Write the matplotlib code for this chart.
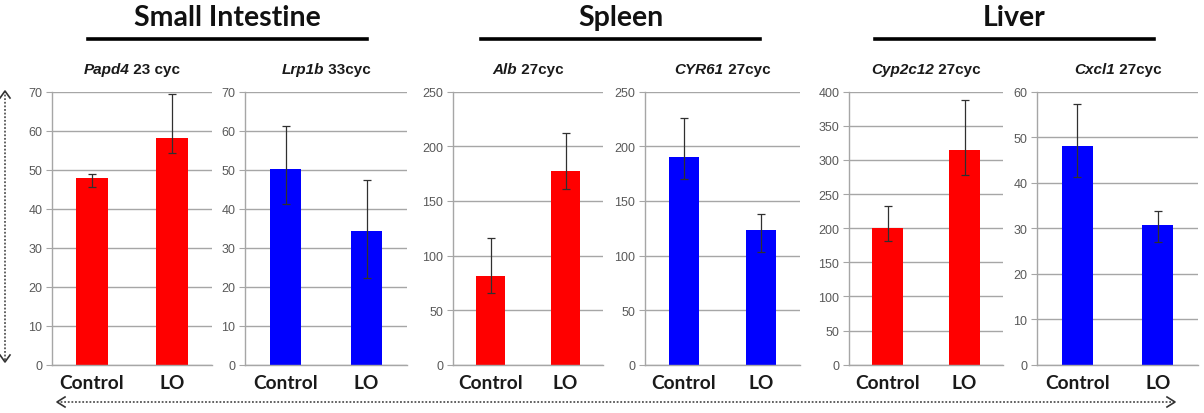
import matplotlib
matplotlib.use("Agg")
import matplotlib.pyplot as plt
from matplotlib.lines import Line2D
import numpy as np

# ---------------- data ----------------
categories = ["Control", "LO"]
genes = ["Papd4", "Lrp1b", "Alb", "CYR61", "Cyp2c12", "Cxcl1"]
cycles = [" 23 cyc", " 33cyc", " 27cyc", " 27cyc", " 27cyc", " 27cyc"]
values = [
    [47.8, 58.2],
    [50.2, 34.2],
    [81.5, 177.4],
    [189.9, 123.6],
    [199.8, 314.5],
    [48.1, 30.7],
]
err_upper = [
    [1.1, 11.2],
    [11.1, 13.2],
    [34.5, 34.6],
    [36.0, 14.4],
    [32.2, 73.3],
    [9.2, 3.0],
]
err_lower = [
    [2.2, 3.9],
    [9.1, 12.0],
    [15.9, 16.8],
    [19.9, 20.1],
    [19.1, 37.1],
    [6.9, 3.8],
]
ymax = [70, 70, 250, 250, 400, 60]
ystep = [10, 10, 50, 50, 50, 10]
bar_colors = ["#FF0000", "#0000FF", "#FF0000", "#0000FF", "#FF0000", "#0000FF"]
groups = ["Small Intestine", "Spleen", "Liver"]

# ---------------- layout ----------------
W, H = 1204, 414
fig = plt.figure(figsize=(W / 100, H / 100), dpi=100)
panel_px = [(52, 212), (245, 407), (453, 603), (645, 800), (849, 1003), (1037, 1198)]
top_px, bot_px = 92.7, 365.7

grid_col = "#A6A6A6"
tick_col = "#595959"
axes = []
for i, (l, r) in enumerate(panel_px):
    ax = fig.add_axes([l / W, 1 - bot_px / H, (r - l) / W, (bot_px - top_px) / H])
    x = np.arange(len(categories))
    ax.bar(x, values[i], width=0.39, color=bar_colors[i], zorder=2)
    ax.errorbar(x, values[i], yerr=[err_lower[i], err_upper[i]], fmt="none",
                ecolor="#303030", elinewidth=0.9, capsize=3, capthick=0.9, zorder=3)
    ax.set_xlim(-0.5, 1.5)
    ax.set_ylim(0, ymax[i])
    ax.set_yticks(np.arange(0, ymax[i] + 1, ystep[i]))
    ax.yaxis.grid(True, color=grid_col, lw=1.0, zorder=0)
    ax.set_axisbelow(True)
    for s in ["top", "right"]:
        ax.spines[s].set_visible(False)
    ax.spines["left"].set_color(grid_col)
    ax.spines["bottom"].set_color(grid_col)
    ax.spines["left"].set_linewidth(1.0)
    ax.spines["bottom"].set_linewidth(1.0)
    ax.tick_params(axis="y", length=4, color=grid_col, labelcolor=tick_col,
                   labelsize=9, pad=3)
    for lab in ax.get_yticklabels():
        lab.set_fontfamily(["Liberation Sans Narrow", "Liberation Sans"])
    ax.set_xticks(x)
    ax.set_xticklabels(categories, fontfamily="Lato", fontweight="bold",
                       fontsize=13.8, color="#1a1a1a")
    ax.tick_params(axis="x", length=0, pad=7)
    axes.append(ax)

# ---------------- titles ----------------
renderer = fig.canvas.get_renderer()
title_y = 1 - 70 / H
for i, (l, r) in enumerate(panel_px):
    cx = (l + r) / 2 / W
    t1 = fig.text(cx, title_y, genes[i], fontfamily=["Liberation Sans Narrow", "Liberation Sans"],
                  fontweight="bold", fontstyle="italic", fontsize=11, ha="left", va="center",
                  color="#1a1a1a")
    t2 = fig.text(cx, title_y, cycles[i], fontfamily=["Liberation Sans Narrow", "Liberation Sans"],
                  fontweight="bold", fontsize=11, ha="left", va="center", color="#1a1a1a")
    w1 = t1.get_window_extent(renderer).width / W
    w2 = t2.get_window_extent(renderer).width / W
    x0 = cx - (w1 + w2) / 2
    t1.set_x(x0)
    t2.set_x(x0 + w1)

group_lines = [(88, 367), (481, 760), (875, 1154)]
for g, (l, r) in zip(groups, group_lines):
    cx = (l + r) / 2 / W
    fig.text(cx, 1 - 18 / H, g, fontfamily="Lato", fontweight="bold", fontsize=20.5,
             ha="center", va="center", color="#111111")
    fig.add_artist(Line2D([l / W, r / W], [1 - 40 / H, 1 - 40 / H], color="black",
                          lw=2.6, transform=fig.transFigure))

# ---------------- dotted arrows ----------------
arrow_col = "#555555"
def fx(px):
    return px / W
def fy(py):
    return 1 - py / H

# vertical arrow
vx = 5
fig.add_artist(Line2D([fx(vx), fx(vx)], [fy(92), fy(363)], color=arrow_col, lw=1.3,
                      linestyle=(0, (1, 1)), transform=fig.transFigure))
for tip, d in [(92, 1), (363, -1)]:
    fig.add_artist(Line2D([fx(vx - 5), fx(vx), fx(vx + 5)], [fy(tip + 7 * d), fy(tip), fy(tip + 7 * d)],
                          color="#333333", lw=1.2, transform=fig.transFigure))

# horizontal arrow
hy = 403
fig.add_artist(Line2D([fx(57), fx(1175)], [fy(hy), fy(hy)], color=arrow_col, lw=1.3,
                      linestyle=(0, (1, 1)), transform=fig.transFigure))
for tip, d in [(57, 1), (1175, -1)]:
    fig.add_artist(Line2D([fx(tip + 8 * d), fx(tip), fx(tip + 8 * d)], [fy(hy - 5), fy(hy), fy(hy + 5)],
                          color="#333333", lw=1.2, transform=fig.transFigure))

fig.savefig("out.png", dpi=100)
